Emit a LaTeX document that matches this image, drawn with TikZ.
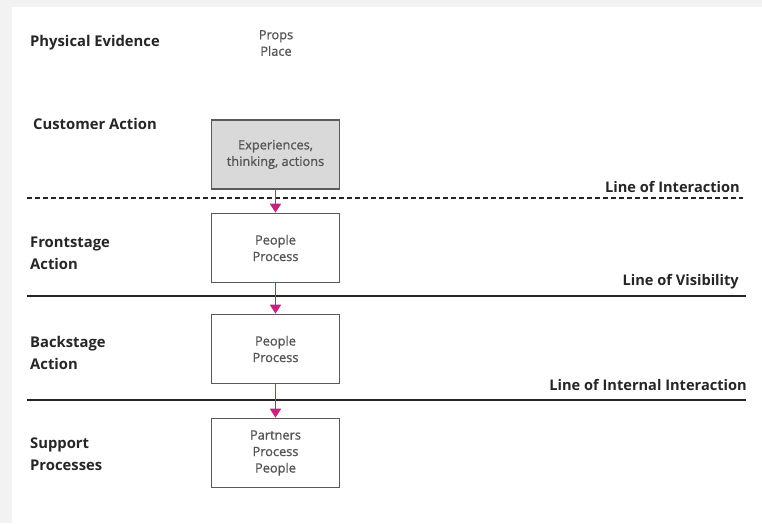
\documentclass[tikz,border=0pt]{standalone}
\usepackage{fontspec}
\setmainfont{Open Sans}
\newfontfamily\boxfont[FakeBold=1]{Open Sans}
\usetikzlibrary{arrows.meta}
\definecolor{framegray}{HTML}{F2F2F2}
\definecolor{boxfill}{HTML}{D9D9D9}
\definecolor{boxedge}{HTML}{5A5A5A}
\definecolor{flowpink}{HTML}{C2247E}
\definecolor{smalltext}{HTML}{555555}
\begin{document}
\begin{tikzpicture}[x=1pt,y=-1pt,
  lanelabel/.style={anchor=base west,font=\fontsize{14.8}{22}\selectfont\bfseries,text=black!85,inner sep=0pt},
  linelabel/.style={anchor=base east,font=\fontsize{14.6}{16}\selectfont\bfseries,text=black!85,inner sep=0pt},
  smalllabel/.style={align=center,font=\boxfont\fontsize{12.8}{16.5}\selectfont,text=smalltext},
  stepbox/.style={smalllabel,draw=boxedge,line width=1.6pt,minimum width=128pt,minimum height=69pt},
  divider/.style={line width=2pt,draw=black!85},
  flow/.style={draw=flowpink,line width=1.8pt,-{Triangle[length=9pt,width=11pt]}}]
  % page frame
  \fill[framegray] (0,0) rectangle (762,523);
  \fill[white] (12,7) rectangle (762,523);
  \useasboundingbox (0,0) rectangle (762,523);

  % lane titles
  \node[lanelabel] (pe) at (30,46) {Physical Evidence};
  \node[lanelabel] (ca) at (33,129) {Customer Action};
  \node[lanelabel] (fa1) at (30,247) {Frontstage};
  \node[lanelabel] (fa2) at (30,269) {Action};
  \node[lanelabel] (ba1) at (30,347) {Backstage};
  \node[lanelabel] (ba2) at (30,369) {Action};
  \node[lanelabel] (sp1) at (30,448) {Support};
  \node[lanelabel] (sp2) at (30,470) {Processes};

  % physical evidence items
  \node[smalllabel] (props) at (276,43) {Props\\Place};

  % boxes
  \node[stepbox,fill=boxfill] (cust) at (275.5,154.5) {Experiences,\\thinking, actions};
  \node[stepbox] (front) at (275.5,248) {People\\Process};
  \node[stepbox] (back) at (275.5,349) {People\\Process};
  \node[stepbox] (supp) at (275.5,453) {Partners\\Process\\People};

  % dividing lines
  \coordinate (li0) at (27,198);  \coordinate (li1) at (743,198);
  \coordinate (lv0) at (27,296);  \coordinate (lv1) at (746,296);
  \coordinate (ln0) at (27,400);  \coordinate (ln1) at (746,400);
  \draw[line width=2pt,draw=black!85,dash pattern=on 4.5pt off 3.5pt] (li0) -- (li1);
  \draw[divider] (lv0) -- (lv1);
  \draw[divider] (ln0) -- (ln1);
  \node[linelabel] (lil) at (740,192) {Line of Interaction};
  \node[linelabel] (lvl) at (739,285) {Line of Visibility};
  \node[linelabel] (lnl) at (747,390) {Line of Internal Interaction};

  % flow arrows
  \draw[flow] (cust.south) -- (front.north);
  \draw[flow] (front.south) -- (back.north);
  \draw[flow] (back.south) -- (supp.north);
\end{tikzpicture}
\end{document}
